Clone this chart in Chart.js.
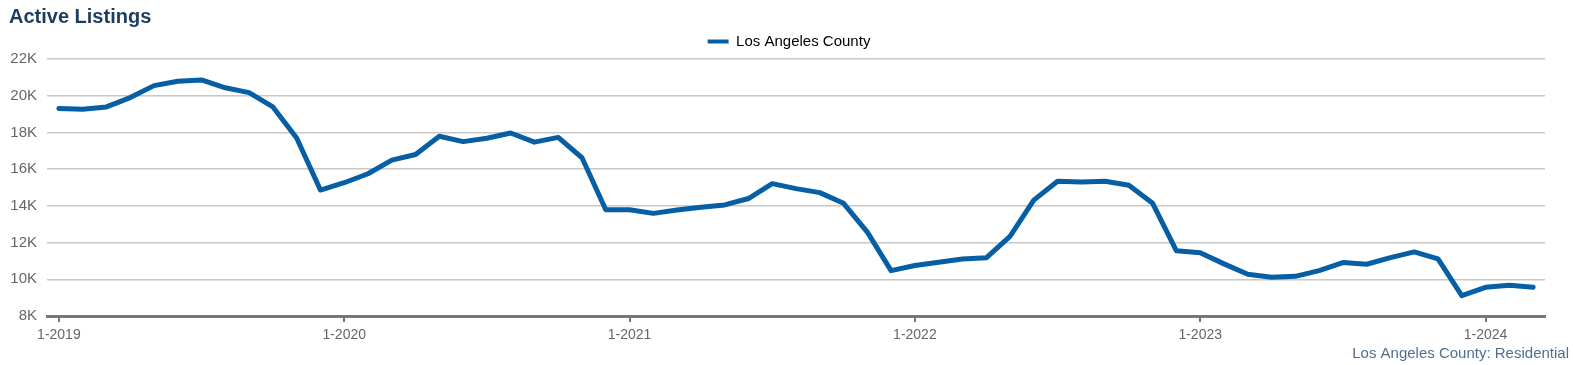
<!DOCTYPE html>
<html>
<head>
<meta charset="utf-8">
<script src="https://cdn.jsdelivr.net/npm/chart.js@4"></script>
<style>
    html, body { margin: 0; padding: 0; background: #fff; }
    #wrap { width: 1573px; height: 365px; position: relative; }
</style>
</head>
<body>
<div id="wrap"><canvas id="listingsChart"></canvas></div>
<script>
// Monthly active listings, Jan 2019 - Mar 2024
const years = [2019, 2020, 2021, 2022, 2023, 2024];
const monthLabels = [];
years.forEach(y => {
    for (let m = 1; m <= 12; m++) {
        if (y === 2024 && m > 3) break;
        monthLabels.push(m + '-' + y);
    }
});

const laCounty = [
    19310, 19260, 19390, 19900, 20550, 20790, 20860, 20430, 20170, 19390, 17700, 14860,
    15260, 15750, 16490, 16800, 17790, 17500, 17680, 17970, 17470, 17730, 16620, 13790,
    13790, 13590, 13770, 13920, 14050, 14400, 15210, 14940, 14720, 14140, 12570, 10470,
    10750, 10930, 11110, 11170, 12340, 14310, 15340, 15300, 15340, 15120, 14140, 11550,
    11450, 10840, 10270, 10110, 10160, 10470, 10910, 10820, 11180, 11490, 11110, 9110,
    9560, 9670, 9560
];

const yTicks = [8000, 10000, 12000, 14000, 16000, 18000, 20000, 22000];

const lineBlue = '#065ea4';
const fontFamily = "Arial, 'Liberation Sans', sans-serif";

Chart.defaults.font.family = fontFamily;
Chart.defaults.color = '#666';

const ctx = document.getElementById('listingsChart').getContext('2d');
new Chart(ctx, {
    type: 'line',
    data: {
        labels: monthLabels,
        datasets: [{
            label: 'Los Angeles County',
            data: laCounty,
            borderColor: lineBlue,
            backgroundColor: lineBlue,
            borderWidth: 5,
            pointRadius: 0,
            tension: 0,
            borderJoinStyle: 'round',
            borderCapStyle: 'round'
        }]
    },
    options: {
        responsive: true,
        maintainAspectRatio: false,
        animation: false,
        layout: { padding: { left: 9, right: 4, top: 5, bottom: 0 } },
        plugins: {
            title: {
                display: true,
                text: 'Active Listings',
                align: 'start',
                color: '#1e3d5e',
                font: { size: 20, weight: 'bold' },
                padding: { top: 0, bottom: 0 }
            },
            subtitle: {
                display: true,
                position: 'bottom',
                align: 'end',
                text: 'Los Angeles County: Residential',
                color: '#4f6f8f',
                font: { size: 15 },
                padding: { top: 0, bottom: 2 }
            },
            legend: {
                display: true,
                position: 'top',
                labels: {
                    color: '#3a3a3a',
                    font: { size: 15 },
                    boxWidth: 21,
                    boxHeight: 4,
                    padding: 5,
                    generateLabels: chart => chart.data.datasets.map((ds, i) => ({
                        text: ds.label,
                        fillStyle: ds.borderColor,
                        strokeStyle: ds.borderColor,
                        lineWidth: 0,
                        datasetIndex: i
                    }))
                }
            },
            tooltip: { enabled: false }
        },
        scales: {
            x: {
                offset: true,
                border: { color: '#777', width: 3 },
                grid: {
                    drawOnChartArea: false,
                    drawTicks: true,
                    tickLength: 6,
                    color: '#777',
                    lineWidth: 2
                },
                afterFit: axis => { axis.height = 29; },
                ticks: {
                    autoSkip: false,
                    maxRotation: 0,
                    color: '#666',
                    font: { size: 14 },
                    padding: 5,
                    callback: function(value) {
                        const lbl = this.getLabelForValue(value);
                        return lbl.startsWith('1-') ? lbl : null;
                    }
                }
            },
            y: {
                min: yTicks[0],
                max: yTicks[yTicks.length - 1],
                border: { display: false },
                grid: {
                    color: '#c8c8c8',
                    lineWidth: 1.5,
                    drawTicks: false
                },
                afterFit: axis => { axis.width = 38; },
                afterBuildTicks: axis => {
                    axis.ticks = yTicks.map(v => ({ value: v }));
                },
                ticks: {
                    color: '#666',
                    font: { size: 15 },
                    padding: 10,
                    callback: v => (v / 1000) + 'K'
                }
            },
            // empty right-hand gutter, keeps the plot clear of the caption edge
            gutter: {
                type: 'linear',
                position: 'right',
                display: true,
                border: { display: false },
                grid: { display: false },
                ticks: { display: false },
                afterFit: axis => { axis.width = 24; }
            }
        }
    }
});
</script>
</body>
</html>
